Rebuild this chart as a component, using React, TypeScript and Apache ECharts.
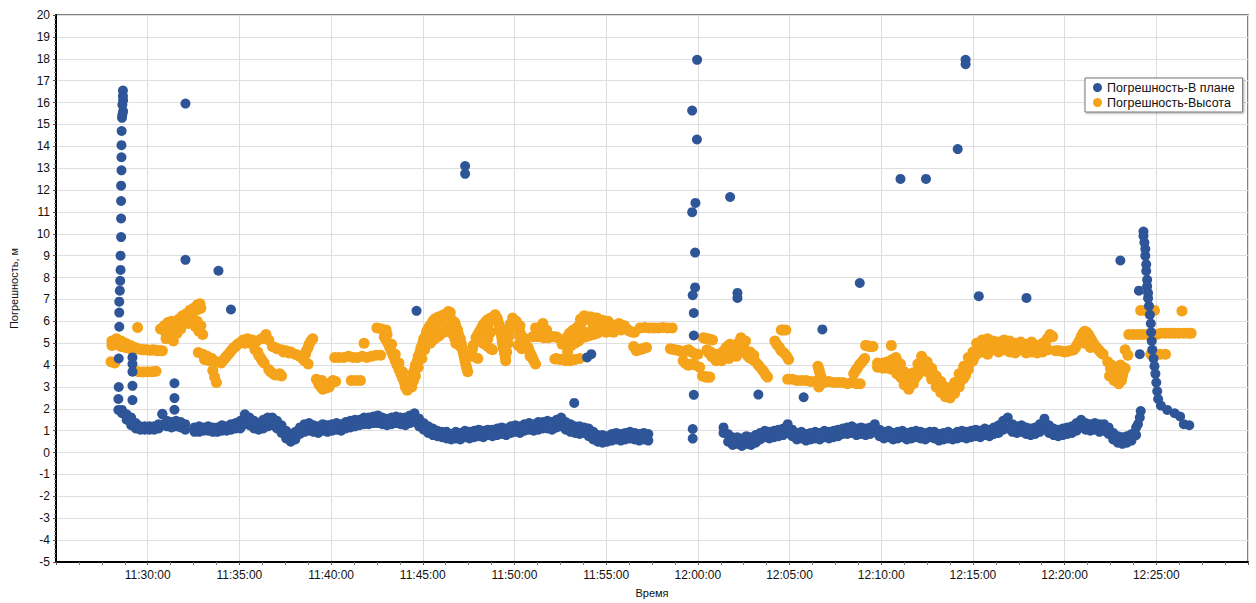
import React, { useEffect, useRef } from "react";
import * as echarts from "echarts";

// Time is expressed in minutes after 11:00:00.
const X_MIN = 25; // 11:25:00
const X_MAX = 90; // 12:30:00
const X_STEP = 5;
const Y_MIN = -5;
const Y_MAX = 20;

const SERIES_PLAN = "Погрешность-В плане";
const SERIES_HEIGHT = "Погрешность-Высота";
const AXIS_Y_NAME = "Погрешность, м";
const AXIS_X_NAME = "Время";

// ---- Blue: horizontal error, dense band [minute, lower, upper] ----
const planBandEarly: number[][] = [
  [28.6, 1.8, 1.95], [28.85, 1.5, 1.75], [29.1, 1.25, 1.6], [29.35, 1.1, 1.35],
  [29.6, 1.05, 1.2], [29.85, 1.05, 1.2], [30.1, 1.05, 1.2], [30.35, 1.05, 1.2],
  [30.6, 1.1, 1.3], [30.8, 1.25, 1.75], [31.05, 1.2, 1.45], [31.3, 1.15, 1.4],
  [31.55, 1.2, 1.45], [31.8, 1.15, 1.4], [32.05, 1.05, 1.3],
  [32.55, 0.95, 1.15], [32.8, 0.95, 1.2], [33.05, 1.0, 1.15], [33.3, 1.0, 1.2],
  [33.55, 0.95, 1.15], [33.8, 0.95, 1.15], [34.05, 1.0, 1.25], [34.3, 1.0, 1.2],
  [34.55, 1.05, 1.3], [34.8, 1.1, 1.35], [35.05, 1.1, 1.45], [35.3, 1.3, 1.75],
  [35.55, 1.25, 1.6], [35.8, 1.1, 1.45], [36.05, 1.05, 1.35], [36.3, 1.1, 1.5],
  [36.55, 1.2, 1.6], [36.8, 1.25, 1.6], [37.05, 1.1, 1.45], [37.3, 0.9, 1.25],
  [37.55, 0.65, 1.0], [37.8, 0.5, 0.85], [38.05, 0.6, 0.95], [38.3, 0.85, 1.15],
  [38.55, 0.95, 1.3], [38.8, 1.0, 1.35], [39.05, 0.95, 1.25], [39.3, 0.9, 1.2],
  [39.55, 1.0, 1.3], [39.8, 0.95, 1.25], [40.05, 1.0, 1.3], [40.3, 1.05, 1.35],
  [40.55, 1.0, 1.3], [40.8, 1.1, 1.4], [41.05, 1.15, 1.45], [41.3, 1.2, 1.5],
  [41.55, 1.25, 1.5], [41.8, 1.3, 1.6], [42.05, 1.3, 1.6], [42.3, 1.35, 1.65],
  [42.55, 1.35, 1.7], [42.8, 1.3, 1.6], [43.05, 1.25, 1.55], [43.3, 1.3, 1.6],
  [43.55, 1.35, 1.65], [43.8, 1.3, 1.6], [44.05, 1.25, 1.6], [44.3, 1.35, 1.7],
  [44.55, 1.4, 1.8], [44.8, 1.2, 1.55], [45.05, 1.05, 1.35], [45.3, 0.9, 1.2],
  [45.55, 0.8, 1.1], [45.8, 0.75, 1.0], [46.05, 0.7, 0.95], [46.3, 0.65, 0.95],
  [46.55, 0.6, 0.85], [46.8, 0.65, 0.95], [47.05, 0.6, 0.9], [47.3, 0.7, 1.0],
  [47.55, 0.65, 0.95], [47.8, 0.7, 1.0], [48.05, 0.75, 1.05], [48.3, 0.7, 1.0],
  [48.55, 0.8, 1.05], [48.8, 0.75, 1.05], [49.05, 0.8, 1.1], [49.3, 0.85, 1.15],
  [49.55, 0.8, 1.1], [49.8, 0.9, 1.2], [50.05, 0.95, 1.25], [50.3, 0.9, 1.2],
  [50.55, 1.0, 1.3], [50.8, 1.05, 1.35], [51.05, 1.0, 1.3], [51.3, 1.05, 1.4],
  [51.55, 1.1, 1.4], [51.8, 1.1, 1.45], [52.05, 1.05, 1.4], [52.3, 1.15, 1.5],
  [52.55, 1.2, 1.6], [52.8, 1.05, 1.4], [53.05, 0.95, 1.3], [53.3, 0.9, 1.2],
  [53.55, 0.85, 1.2], [53.8, 0.9, 1.15], [54.05, 0.75, 1.1], [54.3, 0.6, 0.95],
  [54.55, 0.5, 0.8], [54.8, 0.45, 0.8], [55.05, 0.5, 0.75], [55.3, 0.55, 0.85],
  [55.55, 0.6, 0.9], [55.8, 0.55, 0.85], [56.05, 0.6, 0.9], [56.3, 0.65, 0.95],
  [56.55, 0.6, 0.9], [56.8, 0.55, 0.85], [57.05, 0.6, 0.9], [57.3, 0.55, 0.85],
];

const planBandLate: number[][] = [
  [61.4, 0.9, 1.15], [61.65, 0.5, 0.85], [61.9, 0.35, 0.7], [62.15, 0.4, 0.7],
  [62.4, 0.3, 0.65], [62.65, 0.4, 0.75], [62.9, 0.35, 0.7], [63.15, 0.45, 0.8],
  [63.4, 0.6, 0.9], [63.65, 0.7, 1.0], [63.9, 0.65, 0.95], [64.15, 0.7, 1.0],
  [64.4, 0.75, 1.05], [64.65, 0.8, 1.1], [64.9, 0.9, 1.3], [65.15, 0.75, 1.05],
  [65.4, 0.6, 0.9], [65.65, 0.65, 0.95], [65.9, 0.55, 0.85], [66.15, 0.6, 0.9],
  [66.4, 0.65, 0.95], [66.65, 0.6, 0.9], [66.9, 0.7, 1.0], [67.15, 0.65, 0.95],
  [67.4, 0.7, 1.0], [67.65, 0.75, 1.05], [67.9, 0.85, 1.1], [68.15, 0.85, 1.15],
  [68.4, 0.9, 1.2], [68.65, 0.8, 1.1], [68.9, 0.85, 1.15], [69.15, 0.8, 1.1],
  [69.4, 0.85, 1.15], [69.65, 0.95, 1.3], [69.9, 0.75, 1.05], [70.15, 0.65, 0.95],
  [70.4, 0.7, 1.0], [70.65, 0.6, 0.9], [70.9, 0.65, 0.95], [71.15, 0.7, 1.0],
  [71.4, 0.6, 0.9], [71.65, 0.65, 0.95], [71.9, 0.7, 1.0], [72.15, 0.65, 0.95],
  [72.4, 0.6, 0.9], [72.65, 0.7, 0.95], [72.9, 0.65, 0.95], [73.15, 0.55, 0.85],
  [73.4, 0.6, 0.9], [73.65, 0.65, 0.95], [73.9, 0.6, 0.85], [74.15, 0.65, 0.95],
  [74.4, 0.7, 1.0], [74.65, 0.65, 0.95], [74.9, 0.7, 1.0], [75.15, 0.75, 1.05],
  [75.4, 0.7, 1.0], [75.65, 0.8, 1.1], [75.9, 0.75, 1.05], [76.15, 0.85, 1.15],
  [76.4, 0.9, 1.25], [76.65, 1.05, 1.45], [76.9, 1.1, 1.6], [77.15, 0.95, 1.3],
  [77.4, 0.9, 1.2], [77.65, 0.95, 1.25], [77.9, 0.85, 1.15], [78.15, 0.8, 1.1],
  [78.4, 0.85, 1.15], [78.65, 0.95, 1.3], [78.9, 1.1, 1.55], [79.15, 0.9, 1.25],
  [79.4, 0.8, 1.1], [79.65, 0.75, 1.05], [79.9, 0.8, 1.1], [80.15, 0.85, 1.15],
  [80.4, 0.9, 1.2], [80.65, 1.0, 1.35], [80.9, 1.15, 1.5], [81.15, 1.05, 1.35],
  [81.4, 1.0, 1.3], [81.65, 1.05, 1.35], [81.9, 0.95, 1.3], [82.15, 1.0, 1.3],
  [82.4, 0.85, 1.15], [82.65, 0.6, 0.9], [82.9, 0.45, 0.75], [83.15, 0.4, 0.7],
  [83.4, 0.45, 0.75], [83.65, 0.55, 0.85], [83.9, 0.8, 1.15],
];

// ---- Blue: spikes and isolated points [minute, value] ----
const planSpikeStart: number[][] = [
  [28.65, 16.55], [28.65, 16.3], [28.66, 16.1], [28.62, 15.9], [28.66, 15.6],
  [28.62, 15.45], [28.6, 15.3], [28.58, 14.7], [28.57, 14.05], [28.57, 13.5],
  [28.57, 12.9], [28.55, 12.2], [28.55, 11.5], [28.55, 10.7], [28.55, 9.85],
  [28.52, 9.0], [28.52, 8.35], [28.5, 7.85], [28.48, 7.4], [28.45, 6.9],
  [28.45, 6.4], [28.45, 5.75], [28.42, 4.3], [28.42, 3.0], [28.4, 2.45], [28.4, 1.95],
  [29.17, 4.35], [29.17, 4.05], [29.17, 3.7], [29.17, 3.05], [29.17, 2.4],
];

const planSpikeNoon: number[][] = [
  [59.96, 17.95], [59.69, 15.63], [59.95, 14.31], [59.87, 11.41], [59.69, 10.99],
  [59.85, 9.14], [59.85, 7.55], [59.72, 7.19], [59.78, 6.38], [59.78, 5.35],
  [59.78, 2.64], [59.72, 1.08], [59.72, 0.64],
];

const planSpikeEnd: number[][] = [
  [84.0, 1.3], [84.1, 1.6], [84.15, 1.9], [84.3, 10.1], [84.3, 9.9], [84.35, 9.6],
  [84.4, 9.3], [84.4, 9.0], [84.45, 8.6], [84.45, 8.3], [84.5, 7.9], [84.5, 7.6],
  [84.55, 7.3], [84.55, 7.05], [84.05, 7.4], [84.6, 6.7], [84.65, 6.3], [84.7, 5.9],
  [84.72, 5.5], [84.75, 5.1], [84.78, 4.7], [84.1, 4.5], [84.85, 4.3], [84.9, 3.95],
  [84.95, 3.6], [85.0, 3.2], [85.05, 2.8], [85.1, 2.45], [85.25, 2.15], [85.6, 1.95],
  [86.0, 1.8], [86.3, 1.65], [86.5, 1.3], [86.8, 1.25],
];

const planScattered: number[][] = [
  [31.46, 3.17], [31.46, 2.49], [31.46, 1.96], [30.8, 1.77], [32.06, 15.95],
  [32.06, 8.81], [33.86, 8.31], [34.54, 6.54], [44.66, 6.48], [47.31, 13.1],
  [47.31, 12.74], [53.26, 2.27], [53.96, 4.35], [54.19, 4.5], [61.76, 11.68],
  [62.16, 7.3], [62.16, 7.07], [63.3, 2.65], [65.77, 2.53], [66.79, 5.63],
  [68.83, 7.75], [71.05, 12.51], [72.44, 12.51], [74.17, 13.87], [74.6, 17.95],
  [74.6, 17.75], [75.32, 7.15], [77.92, 7.07], [83.04, 8.78],
];

// ---- Orange: height error [minute, value] ----
const height1128: number[][] = [
  [28.05, 5.1], [28.05, 4.9], [28.3, 5.2], [28.3, 4.95], [28.55, 5.1], [28.55, 4.85],
  [28.8, 5.0], [28.8, 4.8], [29.05, 4.9], [29.05, 4.75], [29.3, 4.8], [29.55, 4.72],
  [29.8, 4.7], [30.05, 4.68], [30.3, 4.7], [30.55, 4.66], [30.8, 4.65],
  [28.15, 5.0], [28.45, 5.0], [28.7, 4.9], [28.95, 4.85], [29.2, 4.8], [29.45, 4.75],
  [29.7, 4.7], [29.95, 4.7], [30.2, 4.68], [30.45, 4.68], [30.7, 4.65],
  [28.0, 4.15], [28.2, 4.1], [29.5, 3.7], [29.75, 3.68], [30.0, 3.7], [30.25, 3.7],
  [30.45, 3.72], [29.45, 5.72],
];

const height1131: number[][] = [
  [30.7, 5.65], [30.9, 5.8], [31.0, 5.45], [31.1, 5.95], [31.3, 6.0], [31.2, 5.3],
  [31.4, 5.1], [31.6, 5.45], [31.5, 5.85], [31.7, 6.1], [31.8, 5.65], [31.9, 6.25],
  [32.1, 6.35], [32.2, 5.9], [32.3, 6.5], [32.4, 6.1], [32.5, 6.6], [32.7, 6.75],
  [32.85, 6.8], [32.6, 5.75], [32.8, 5.55], [33.0, 5.4],
  [31.0, 5.2], [31.25, 5.65], [31.45, 5.55], [31.6, 5.8], [31.75, 5.9], [32.0, 6.0],
  [32.2, 6.2], [32.4, 6.35], [32.6, 6.5], [32.75, 6.55], [32.9, 6.6], [32.7, 6.0],
  [32.9, 5.8],
];

const height1133: number[][] = [
  [32.76, 4.57], [33.0, 4.5], [33.25, 4.4], [33.5, 4.3], [33.75, 4.15], [34.0, 4.1],
  [34.2, 4.3], [34.4, 4.5], [34.6, 4.7], [34.8, 4.85], [33.55, 3.75], [33.65, 3.45],
  [33.75, 3.2], [35.0, 5.0], [35.2, 5.15], [35.45, 5.2], [35.7, 5.15], [35.95, 5.1],
  [36.2, 5.2], [36.45, 5.4], [36.6, 5.15], [35.85, 4.7], [36.05, 4.45], [36.25, 4.2],
  [36.6, 3.8], [36.85, 3.6], [37.1, 3.55], [37.3, 3.5], [36.8, 4.85], [37.05, 4.75],
  [37.3, 4.7], [37.55, 4.65], [37.8, 4.6], [38.05, 4.5], [38.3, 4.4], [38.55, 4.2],
  [38.75, 4.05], [38.6, 4.5], [38.75, 4.8], [38.9, 5.1], [39.0, 5.2], [39.2, 3.35],
  [39.35, 3.1], [39.55, 2.9], [39.5, 3.3], [39.75, 2.95], [40.0, 3.2], [40.25, 3.25],
  [39.9, 3.0],
  [33.1, 4.25], [33.35, 4.2], [34.1, 4.2], [34.3, 4.4], [34.5, 4.6], [34.7, 4.8],
  [34.9, 4.95], [35.1, 5.05], [35.3, 5.0], [35.6, 5.0], [36.0, 4.6], [36.15, 4.35],
  [36.35, 4.1], [36.7, 3.7], [36.95, 3.55], [37.2, 3.6], [36.95, 4.8], [37.4, 4.6],
  [37.7, 4.55], [38.2, 4.45], [38.45, 4.3], [38.65, 4.65], [38.8, 4.95], [39.3, 3.2],
  [39.45, 3.0], [39.65, 3.1], [40.1, 3.3],
];

const height1140: number[][] = [
  [40.2, 4.35], [40.45, 4.35], [40.7, 4.35], [40.95, 4.4], [41.2, 4.35], [41.45, 4.35],
  [41.7, 4.4], [41.95, 4.35], [42.2, 4.4], [42.45, 4.45], [42.7, 4.45],
  [41.1, 3.3], [41.35, 3.3], [41.6, 3.3], [41.8, 5.0], [42.5, 5.7], [42.75, 5.65],
  [43.0, 5.6], [42.9, 5.3], [43.1, 5.0], [43.3, 4.6], [43.5, 4.2], [43.7, 3.8],
  [43.9, 3.4], [44.05, 3.0], [44.15, 2.85], [43.05, 5.4], [43.3, 4.95], [43.5, 4.5],
  [43.7, 4.1], [43.9, 3.7], [44.1, 3.3], [44.3, 3.2], [44.45, 3.6], [44.6, 4.0],
  [44.75, 4.4], [44.9, 4.8], [45.05, 5.2], [45.2, 5.5], [44.4, 3.0], [44.6, 3.5],
  [44.75, 3.9], [44.95, 4.3], [45.1, 4.7], [45.3, 5.1],
  [43.0, 5.15], [43.2, 4.8], [43.4, 4.4], [43.6, 4.0], [43.8, 3.6], [44.0, 3.2],
  [44.2, 2.95], [44.25, 3.1], [44.5, 3.3], [44.55, 3.8], [44.7, 4.2], [44.85, 4.6],
  [45.0, 5.0], [45.15, 5.3], [45.25, 5.6],
];

const height1145: number[][] = [
  [45.35, 5.75], [45.55, 6.0], [45.75, 6.15], [45.95, 6.2], [46.15, 6.3], [46.35, 6.25],
  [46.55, 6.1], [46.75, 5.95], [46.9, 5.6], [47.05, 5.2], [47.15, 4.8], [47.25, 4.4],
  [47.35, 4.0], [47.45, 3.7], [45.4, 5.0], [45.65, 5.2], [45.9, 5.35], [46.15, 5.5],
  [46.4, 5.6], [46.65, 5.4], [46.85, 5.0],
  [45.45, 5.85], [45.65, 6.1], [45.85, 6.2], [46.05, 6.25], [46.25, 6.3], [46.45, 6.2],
  [46.65, 6.0], [46.8, 5.8], [46.95, 5.4], [47.1, 5.0], [47.2, 4.6], [47.3, 4.2],
  [47.4, 3.85], [45.5, 5.1], [45.8, 5.3], [46.0, 5.45], [46.3, 5.6], [46.55, 5.5],
  [46.75, 5.2],
  [45.3, 5.5], [45.6, 5.75], [45.9, 5.95], [46.2, 6.05], [46.4, 6.45], [46.5, 6.4],
  [46.7, 5.75], [46.9, 5.2], [47.0, 4.9], [46.8, 5.0], [47.1, 4.8], [47.4, 4.6],
  [47.7, 4.4], [48.0, 4.3],
];

const height1147: number[][] = [
  [47.6, 4.5], [47.9, 5.25], [48.1, 5.55], [48.3, 5.85], [48.5, 6.05], [48.7, 6.15],
  [48.95, 6.3], [49.1, 6.0], [49.2, 5.7], [49.3, 5.3], [49.36, 4.95], [49.45, 4.55],
  [49.52, 4.2], [49.65, 5.0], [49.8, 5.7], [49.9, 6.15], [50.1, 5.85], [50.28, 5.55],
  [50.45, 5.25], [50.6, 4.95], [50.8, 4.65], [50.98, 4.35], [51.15, 4.05], [51.15, 5.7],
  [51.35, 5.5], [51.53, 5.4], [48.3, 5.0], [48.55, 4.85], [48.8, 4.7], [50.2, 4.9],
  [50.4, 4.75],
  [47.75, 4.9], [48.0, 5.4], [48.2, 5.7], [48.4, 5.95], [48.6, 6.1], [48.85, 6.2],
  [49.05, 6.15], [49.15, 5.85], [49.25, 5.5], [49.33, 5.1], [49.4, 4.75], [49.5, 4.35],
  [49.58, 4.6], [49.72, 5.35], [49.85, 5.9], [50.0, 6.0], [50.2, 5.7], [50.35, 5.4],
  [50.5, 5.1], [50.7, 4.8], [50.9, 4.5], [51.05, 4.2], [51.25, 5.6], [51.45, 5.45],
  [47.7, 4.7], [48.4, 4.95], [48.7, 4.75],
  [48.4, 5.5], [48.55, 5.5], [48.7, 5.5], [48.55, 5.8], [48.55, 5.2], [49.6, 5.6],
  [49.75, 5.85], [50.1, 6.0], [50.3, 5.8], [50.3, 5.3], [50.6, 5.2], [50.75, 4.8],
  [50.85, 4.4], [51.0, 5.3], [51.25, 5.3], [51.5, 5.3], [51.75, 5.3], [52.0, 5.3],
  [52.25, 5.3], [51.45, 5.75], [51.55, 5.6],
];

const height1151: number[][] = [
  [51.6, 5.25], [51.85, 5.25], [52.1, 5.3], [52.35, 5.25], [51.55, 5.9], [51.75, 5.6],
  [52.3, 4.3], [52.55, 4.25], [52.8, 4.2], [53.05, 4.2], [53.3, 4.25], [53.55, 4.3],
  [52.6, 4.95], [52.8, 5.2], [53.0, 5.45], [53.2, 5.6], [53.45, 5.75], [53.7, 6.0],
  [53.9, 6.15], [54.1, 6.2], [54.3, 5.8], [54.45, 5.6], [54.6, 5.9], [54.8, 6.05],
  [55.0, 5.5], [55.1, 6.0], [53.3, 5.2], [53.6, 5.4], [53.9, 5.5], [54.2, 5.4],
  [52.2, 4.28], [52.45, 4.25], [52.7, 5.05], [52.9, 5.3], [53.1, 5.5], [53.35, 5.65],
  [53.6, 5.85], [53.8, 6.1], [54.0, 6.2], [54.2, 6.0], [54.4, 5.7], [54.5, 5.75],
  [54.7, 6.0], [54.9, 5.8], [55.05, 5.75], [53.45, 5.3], [53.75, 5.45], [54.05, 5.45],
  [52.9, 4.6], [53.1, 4.9], [53.3, 5.0], [53.5, 5.1], [53.7, 5.25], [53.9, 5.3],
  [54.1, 5.35], [54.3, 5.4], [54.5, 5.45], [54.7, 5.55], [54.9, 5.6], [53.6, 6.1],
  [53.8, 6.25], [54.2, 6.2], [54.5, 6.15],
];

const height1155: number[][] = [
  [55.3, 5.85], [55.55, 5.7], [55.8, 5.6], [56.05, 5.65], [56.3, 5.55], [56.55, 5.5],
  [55.4, 5.5], [55.7, 5.9], [56.0, 5.8], [56.5, 4.85], [56.65, 4.65], [56.8, 4.7],
  [57.0, 4.75], [57.2, 4.8], [56.85, 5.7], [57.1, 5.72], [57.35, 5.7], [57.6, 5.7],
  [57.85, 5.7], [58.1, 5.72], [58.35, 5.7], [58.6, 5.7],
  [55.45, 5.75], [55.65, 5.65], [55.9, 5.65], [56.2, 5.6], [56.45, 5.5], [56.6, 4.75],
  [56.9, 4.72], [57.1, 4.78],
];

const height1158: number[][] = [
  [58.5, 4.75], [58.75, 4.7], [59.0, 4.65], [59.25, 4.6], [59.5, 4.7], [59.75, 4.55],
  [60.0, 4.5], [59.2, 4.2], [59.45, 4.0], [59.7, 4.05], [60.1, 3.9], [60.25, 3.5],
  [60.45, 3.45], [60.65, 3.45], [60.3, 5.25], [60.55, 5.2], [60.8, 5.15], [60.5, 4.7],
  [60.75, 4.4], [61.0, 4.2], [61.25, 4.45], [61.5, 4.75], [61.75, 4.95], [61.7, 4.3],
  [61.95, 4.55], [62.2, 5.0], [62.35, 5.25], [62.5, 4.8], [62.7, 4.45], [62.9, 4.3],
  [63.1, 4.2], [63.35, 3.95], [63.6, 3.7], [63.8, 3.45],
  [58.6, 4.72], [58.9, 4.68], [59.1, 4.62], [59.35, 4.65], [59.6, 4.62], [59.9, 4.5],
  [59.3, 4.1], [59.55, 4.0], [59.85, 4.0], [60.35, 3.48], [60.55, 3.45], [60.4, 5.22],
  [60.65, 5.18], [60.6, 4.55], [60.9, 4.3], [61.1, 4.3], [61.35, 4.6], [61.6, 4.85],
  [61.8, 4.4], [62.05, 4.75], [62.15, 4.9], [62.3, 5.1], [62.45, 5.0], [62.6, 4.6],
  [62.8, 4.35], [63.0, 4.25], [63.25, 4.05], [63.5, 3.8], [63.7, 3.55],
  [60.7, 4.6], [61.0, 4.5], [61.3, 4.2], [61.6, 4.5], [61.9, 4.7], [62.1, 4.4],
  [62.4, 4.6], [62.6, 5.1], [62.85, 4.6], [63.05, 4.45],
];

const height1204: number[][] = [
  [64.2, 5.1], [64.45, 4.8], [64.7, 4.55], [64.95, 4.25], [64.55, 5.6], [64.8, 5.6],
  [64.3, 4.95], [64.55, 4.65], [64.85, 4.4], [64.65, 5.6],
  [64.9, 3.35], [65.15, 3.35], [65.4, 3.3], [65.65, 3.3], [65.9, 3.3], [66.15, 3.25],
  [66.4, 3.25], [66.65, 3.25], [66.9, 3.2], [67.15, 3.25], [67.4, 3.2], [67.65, 3.2],
  [67.9, 3.2], [68.15, 3.15], [68.4, 3.2], [68.65, 3.15], [68.85, 3.15],
  [66.55, 3.95], [66.65, 3.65], [66.75, 3.4], [66.6, 3.0], [66.6, 3.8], [66.7, 3.5],
  [66.65, 3.1],
  [68.5, 3.6], [68.7, 3.85], [68.9, 4.1], [69.1, 4.3], [68.6, 3.75], [68.8, 4.0],
  [69.0, 4.2], [69.15, 4.9], [69.35, 4.85], [69.55, 4.85], [69.25, 4.88], [69.45, 4.85],
  [70.55, 4.9],
];

const height1210: number[][] = [
  [69.8, 3.9], [69.8, 4.1], [70.1, 3.85], [70.1, 4.1], [70.35, 3.85], [70.35, 4.15],
  [70.6, 3.8], [70.6, 4.25], [70.85, 3.6], [70.85, 4.2], [71.05, 3.45], [71.05, 4.05],
  [71.25, 3.1], [71.25, 3.7], [71.5, 2.9], [71.5, 3.4], [71.75, 3.15], [71.75, 3.65],
  [72.0, 3.55], [72.0, 4.05], [72.25, 3.85], [72.25, 4.3], [72.5, 3.7], [72.5, 4.15],
  [72.75, 3.35], [72.75, 3.85], [73.0, 3.0], [73.0, 3.5], [73.25, 2.75], [73.25, 3.25],
  [73.5, 2.55], [73.5, 3.0], [73.75, 2.5], [73.75, 2.95], [74.0, 2.7], [74.0, 3.2],
  [74.25, 3.0], [74.25, 3.6], [74.5, 3.4], [74.5, 3.95], [74.75, 3.8], [74.75, 4.35],
  [75.0, 4.2], [75.0, 4.6],
  [69.95, 4.0], [70.25, 4.0], [70.5, 4.0], [70.75, 3.95], [70.95, 3.75], [71.15, 3.4],
  [71.4, 3.15], [71.6, 3.1], [71.85, 3.4], [72.1, 3.8], [72.35, 4.1], [72.6, 3.95],
  [72.85, 3.6], [73.1, 3.25], [73.35, 2.95], [73.6, 2.75], [73.85, 2.8], [74.1, 3.0],
  [74.35, 3.3], [74.6, 3.7], [74.85, 4.1], [75.1, 4.4],
  [71.0, 3.9], [71.3, 3.5], [71.55, 3.2], [72.3, 3.9], [72.7, 3.6], [73.2, 3.05],
  [73.6, 2.6], [74.2, 3.2], [74.6, 3.55], [70.8, 4.35], [72.2, 4.4],
];

const height1215: number[][] = [
  [75.2, 4.5], [75.2, 5.0], [75.5, 4.6], [75.5, 5.15], [75.8, 4.5], [75.8, 5.2],
  [76.1, 4.7], [76.1, 5.1], [76.4, 4.6], [76.4, 5.05], [76.7, 4.7], [76.7, 5.15],
  [77.0, 4.6], [77.0, 5.1], [77.3, 4.55], [77.3, 5.0], [77.6, 4.7], [77.6, 5.05],
  [77.9, 4.55], [77.9, 4.95], [78.2, 4.6], [78.2, 5.05], [78.5, 4.55], [78.5, 4.9],
  [78.8, 4.6], [78.8, 5.0], [79.05, 5.2], [79.2, 5.4], [79.35, 5.3], [79.1, 4.7],
  [75.35, 4.8], [75.65, 4.85], [75.95, 4.85], [76.25, 4.9], [76.55, 4.85], [76.85, 4.9],
  [77.15, 4.85], [77.45, 4.8], [77.75, 4.85], [78.05, 4.8], [78.35, 4.8], [78.65, 4.75],
  [78.95, 4.9],
];

const height1219: number[][] = [
  [79.5, 4.65], [79.75, 4.65], [80.0, 4.6], [80.25, 4.65], [80.5, 4.7], [80.7, 4.95],
  [80.9, 5.3], [81.1, 5.55], [81.3, 5.4], [81.1, 5.0], [81.5, 5.1], [81.7, 4.85],
  [81.9, 4.65], [82.1, 4.5], [81.4, 4.8],
  [79.6, 4.65], [79.9, 4.62], [80.15, 4.62], [80.4, 4.68], [80.6, 4.8], [80.8, 5.1],
  [81.0, 5.45], [81.2, 5.5], [81.4, 5.25], [81.6, 4.95], [81.8, 4.75], [82.0, 4.55],
  [82.35, 4.15], [82.5, 3.85], [82.45, 3.5], [82.7, 3.3], [82.85, 3.7], [83.05, 4.0],
  [83.15, 3.5], [83.3, 3.85], [82.95, 3.15], [83.3, 4.7], [83.45, 4.45],
  [82.6, 3.6], [82.8, 3.5], [83.0, 3.85], [83.2, 3.7], [82.55, 4.0], [83.1, 3.3],
];

const height1223: number[][] = [
  [83.5, 5.4], [83.75, 5.4], [84.0, 5.4], [84.25, 5.4], [84.5, 5.4], [84.75, 5.4],
  [85.0, 5.4], [84.15, 6.5], [84.4, 6.5], [84.65, 6.5], [84.9, 6.5], [85.25, 5.45],
  [85.5, 5.45], [85.75, 5.45], [86.0, 5.45], [86.25, 5.45], [86.5, 5.45], [86.75, 5.45],
  [86.9, 5.45], [84.7, 4.5], [84.95, 4.5], [85.2, 4.5], [85.5, 4.5], [86.4, 6.47],
];

const BLUE = "#2e5597";
const ORANGE = "#f5a31a";

function fmtTime(v: number): string {
  const h = 11 + Math.floor(v / 60);
  const m = Math.round(v % 60);
  return `${h}:${String(m).padStart(2, "0")}:00`;
}

const bandPoints = (band: number[][]) =>
  band.flatMap(([m, lo, hi]) => [
    [m, lo],
    [m, hi],
  ]);

export default function App() {
  const ref = useRef<HTMLDivElement>(null);

  useEffect(() => {
    if (!ref.current) return;
    const chart = echarts.init(ref.current, undefined, { renderer: "svg" });

    const planData = [
      ...bandPoints(planBandEarly),
      ...bandPoints(planBandLate),
      ...planSpikeStart,
      ...planSpikeNoon,
      ...planSpikeEnd,
      ...planScattered,
    ];
    const heightData = [
      ...height1128, ...height1131, ...height1133, ...height1140, ...height1145,
      ...height1147, ...height1151, ...height1155, ...height1158, ...height1204,
      ...height1210, ...height1215, ...height1219, ...height1223,
    ];

    const font = "'Liberation Sans', Arial, sans-serif";

    chart.setOption({
      animation: false,
      backgroundColor: "#ffffff",
      textStyle: { fontFamily: font },
      grid: {
        left: 53,
        right: 8,
        top: 15,
        bottom: 36,
        show: true,
        borderColor: "#555",
        borderWidth: 1.5,
        backgroundColor: "transparent",
      },
      legend: {
        data: [SERIES_PLAN, SERIES_HEIGHT],
        orient: "vertical",
        left: 1085,
        top: 78,
        padding: [3, 8, 3, 8],
        itemGap: 2,
        itemWidth: 9,
        itemHeight: 9,
        icon: "circle",
        backgroundColor: "#fff",
        borderColor: "#777",
        borderWidth: 1,
        shadowColor: "rgba(0,0,0,0.35)",
        shadowBlur: 2,
        shadowOffsetX: 1,
        shadowOffsetY: 1,
        textStyle: { fontSize: 12.5, color: "#111", fontFamily: font },
      },
      xAxis: {
        type: "value",
        min: X_MIN,
        max: X_MAX,
        interval: X_STEP,
        name: AXIS_X_NAME,
        nameLocation: "middle",
        nameGap: 25,
        nameTextStyle: { fontSize: 11, color: "#111" },
        axisLine: { show: true, onZero: false, lineStyle: { color: "#000", width: 2 } },
        axisTick: { show: true, length: 3, lineStyle: { color: "#555" } },
        minorTick: { show: true, splitNumber: 4, length: 3, lineStyle: { color: "#777" } },
        splitLine: { show: true, lineStyle: { color: "#dedede", width: 1 } },
        axisLabel: {
          fontSize: 12,
          color: "#111",
          margin: 7,
          showMinLabel: false,
          showMaxLabel: false,
          formatter: (v: number) => (v <= X_MIN || v >= X_MAX ? "" : fmtTime(v)),
        },
      },
      yAxis: {
        type: "value",
        min: Y_MIN,
        max: Y_MAX,
        interval: 1,
        name: AXIS_Y_NAME,
        nameLocation: "middle",
        nameGap: 37,
        nameTextStyle: { fontSize: 11, color: "#111" },
        axisLine: { show: true, onZero: false, lineStyle: { color: "#000", width: 2 } },
        axisTick: { show: true, length: 3, lineStyle: { color: "#555" } },
        minorTick: { show: true, splitNumber: 5, length: 2, lineStyle: { color: "#888" } },
        splitLine: { show: true, lineStyle: { color: "#dedede", width: 1 } },
        axisLabel: { fontSize: 12, color: "#111", margin: 6 },
      },
      series: [
        {
          name: SERIES_HEIGHT,
          type: "scatter",
          symbol: "circle",
          symbolSize: 11,
          itemStyle: { color: ORANGE, opacity: 1 },
          data: heightData,
          z: 2,
        },
        {
          name: SERIES_PLAN,
          type: "scatter",
          symbol: "circle",
          symbolSize: 10,
          itemStyle: { color: BLUE, opacity: 1 },
          data: planData,
          z: 3,
        },
      ],
    });

    return () => chart.dispose();
  }, []);

  return (
    <div
      ref={ref}
      style={{ position: "fixed", left: 0, top: 0, width: 1256, height: 603, background: "#fff" }}
    />
  );
}
